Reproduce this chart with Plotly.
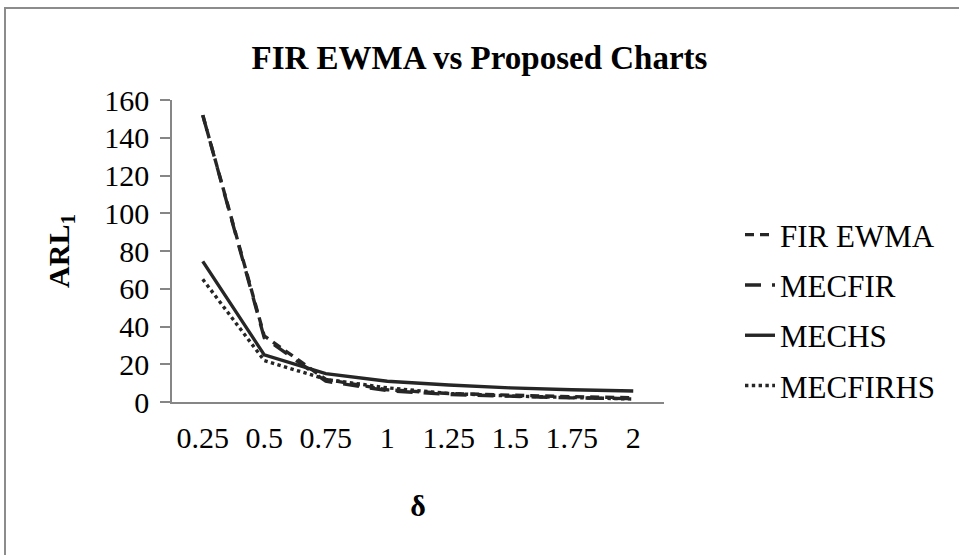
import plotly.graph_objects as go

# ARL1 values for each shift size
delta = ["0.25", "0.5", "0.75", "1", "1.25", "1.5", "1.75", "2"]
fir_ewma = [152, 35, 12, 6.5, 4.5, 3.5, 2.8, 2.3]
mecfir = [152, 34, 11, 6, 4, 3, 2.2, 1.8]
mechs = [74.5, 25, 15, 11, 9, 7.5, 6.5, 5.8]
mecfirhs = [65, 22, 12, 7.5, 4.5, 3.2, 2.4, 1.6]

y_ticks = [0, 20, 40, 60, 80, 100, 120, 140, 160]

W, H = 959, 555
ML, MR, MT, MB = 172, 295, 100, 153
PW, PH = W - ML - MR, H - MT - MB

FONT = "Liberation Serif, Times New Roman, serif"
INK = "#262626"
GRID = "#868686"


def px_x(px):
    return (px - ML) / PW


def px_y(py):
    return (H - MB - py) / PH


# (name, values, dash, legend rank); drawn so FIR EWMA sits on top
series = [
    ("MECFIR", mecfir, "16px,11px", 2),
    ("MECHS", mechs, "solid", 3),
    ("MECFIRHS", mecfirhs, "dot", 4),
    ("FIR EWMA", fir_ewma, "9px,6px", 1),
]

fig = go.Figure()
for name, vals, dash, rank in series:
    fig.add_trace(go.Scatter(
        x=delta, y=vals, name=name, mode="lines",
        line=dict(color=INK, width=3.4, dash=dash),
        legendgroup=name, legendrank=rank,
    ))

fig.update_layout(
    width=W, height=H,
    margin=dict(l=ML, r=MR, t=MT, b=MB, pad=0),
    paper_bgcolor="white", plot_bgcolor="white",
    font=dict(family=FONT, color="black", size=30),
    title=dict(text="<b>FIR EWMA vs Proposed Charts</b>", x=0.5, xanchor="center",
               y=1 - 57 / H, yanchor="middle", font=dict(size=33)),
    showlegend=True,
    legend=dict(x=px_x(740), xanchor="left", y=px_y(208), yanchor="top",
                font=dict(size=31), tracegroupgap=7, bgcolor="rgba(0,0,0,0)",
                traceorder="grouped"),
    xaxis=dict(type="category", range=[-0.5, 7.5], showline=True, linecolor=GRID,
               linewidth=1.5, ticks="", showgrid=False, zeroline=False,
               ticklabelstandoff=8, tickfont=dict(size=30),
               title=dict(text="<b>δ</b>", standoff=42, font=dict(size=30))),
    yaxis=dict(range=[0, 160], tickvals=y_ticks, showline=True, linecolor=GRID,
               linewidth=1.5, ticks="outside", ticklen=10, tickcolor=GRID, tickwidth=1.5,
               showgrid=False, zeroline=False, ticklabelstandoff=5,
               tickfont=dict(size=30),
               title=dict(text="<b>ARL<sub>1</sub></b>", standoff=26, font=dict(size=30))),
    shapes=[dict(type="rect", xref="paper", yref="paper",
                 x0=px_x(5), x1=px_x(W + 20), y0=px_y(H + 20), y1=px_y(8),
                 line=dict(color="#8c8c8c", width=2), layer="below")],
)

fig.write_html("out.html")
